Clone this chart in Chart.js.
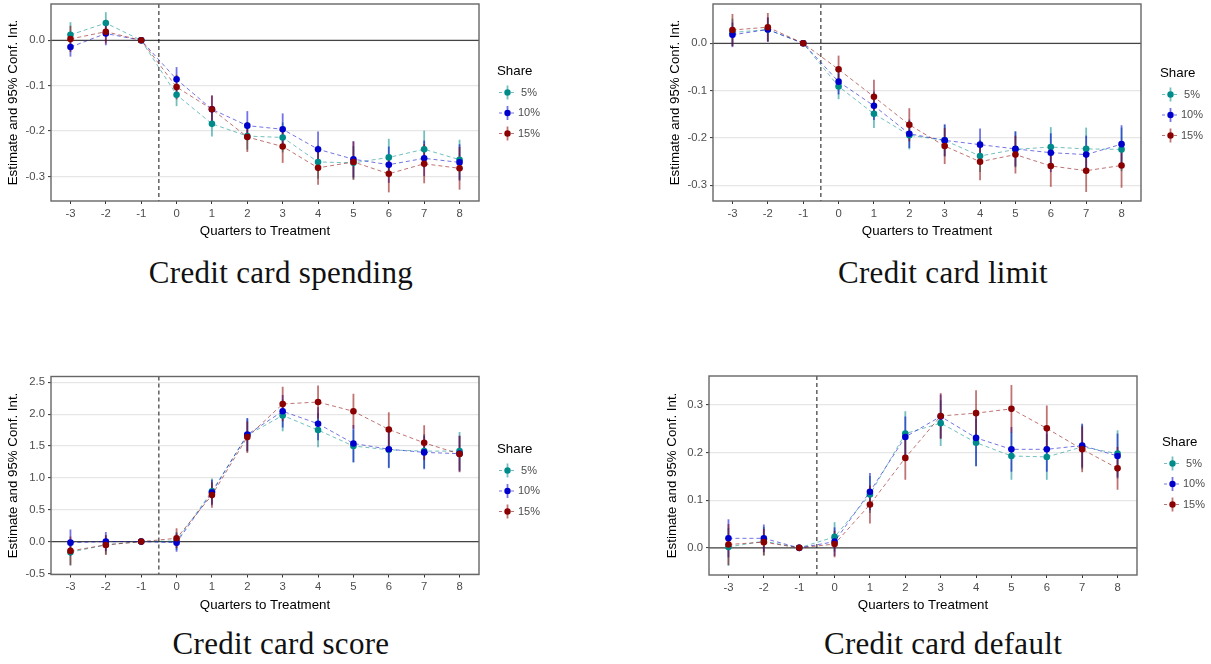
<!DOCTYPE html>
<html><head><meta charset="utf-8">
<script src="https://cdn.jsdelivr.net/npm/chart.js@4/dist/chart.umd.min.js"></script>
<style>
html,body{margin:0;padding:0;background:#fff;width:1211px;height:664px;overflow:hidden;position:relative}
canvas{position:absolute}
.cap{position:absolute;font-family:"Liberation Serif","Times New Roman",serif;font-size:31px;letter-spacing:0.3px;color:#111;white-space:nowrap;transform:translate(-50%,-50%);line-height:1}
</style></head><body>
<canvas id="c1" width="600" height="250" style="left:0;top:0"></canvas>
<canvas id="c2" width="591" height="250" style="left:620px;top:0"></canvas>
<canvas id="c3" width="600" height="255" style="left:0;top:370px"></canvas>
<canvas id="c4" width="591" height="255" style="left:620px;top:370px"></canvas>
<div class="cap" style="left:281px;top:272px">Credit card spending</div>
<div class="cap" style="left:943px;top:272px">Credit card limit</div>
<div class="cap" style="left:281px;top:643px">Credit card score</div>
<div class="cap" style="left:943px;top:643px">Credit card default</div>
<script>
// ---------- data ----------
const quarters = [-3, -2, -1, 0, 1, 2, 3, 4, 5, 6, 7, 8];
const shareLabels = [' 5%', '10%', '15%'];
const legendTitle = 'Share';
const xAxisTitle = 'Quarters to Treatment';
const yAxisTitle = 'Estimate and 95% Conf. Int.';
const treatmentLine = -0.5;

// Credit card spending
const spendEst5  = [0.012, 0.038, 0, -0.120, -0.184, -0.211, -0.214, -0.268, -0.270, -0.258, -0.240, -0.263];
const spendLo5   = [-0.016, 0.014, 0, -0.145, -0.212, -0.241, -0.247, -0.305, -0.307, -0.299, -0.281, -0.307];
const spendHi5   = [0.040, 0.062, 0, -0.095, -0.156, -0.181, -0.181, -0.231, -0.233, -0.217, -0.199, -0.219];
const spendEst10 = [-0.015, 0.015, 0, -0.086, -0.152, -0.188, -0.196, -0.240, -0.262, -0.274, -0.260, -0.269];
const spendLo10  = [-0.036, -0.011, 0, -0.113, -0.182, -0.220, -0.231, -0.279, -0.302, -0.314, -0.299, -0.309];
const spendHi10  = [0.006, 0.041, 0, -0.059, -0.122, -0.156, -0.161, -0.201, -0.222, -0.234, -0.221, -0.229];
const spendEst15 = [0.003, 0.019, 0, -0.103, -0.152, -0.213, -0.234, -0.281, -0.268, -0.294, -0.272, -0.282];
const spendLo15  = [-0.026, -0.007, 0, -0.130, -0.183, -0.246, -0.270, -0.318, -0.307, -0.335, -0.315, -0.329];
const spendHi15  = [0.032, 0.045, 0, -0.076, -0.121, -0.180, -0.198, -0.244, -0.223, -0.253, -0.229, -0.235];
const spendTicks = [-0.3, -0.2, -0.1, 0.0];

// Credit card limit
const limitEst5  = [0.023, 0.029, 0, -0.091, -0.149, -0.194, -0.205, -0.238, -0.224, -0.219, -0.223, -0.224];
const limitLo5   = [-0.006, 0.004, 0, -0.118, -0.179, -0.224, -0.238, -0.272, -0.262, -0.261, -0.268, -0.270];
const limitHi5   = [0.052, 0.054, 0, -0.064, -0.119, -0.164, -0.172, -0.204, -0.186, -0.177, -0.178, -0.178];
const limitEst10 = [0.018, 0.029, 0, -0.081, -0.132, -0.191, -0.205, -0.214, -0.223, -0.231, -0.235, -0.213];
const limitLo10  = [-0.008, 0.003, 0, -0.108, -0.162, -0.221, -0.239, -0.248, -0.260, -0.272, -0.275, -0.253];
const limitHi10  = [0.044, 0.055, 0, -0.054, -0.102, -0.161, -0.171, -0.180, -0.186, -0.190, -0.195, -0.173];
const limitEst15 = [0.028, 0.034, 0, -0.055, -0.113, -0.172, -0.217, -0.250, -0.235, -0.259, -0.269, -0.258];
const limitLo15  = [-0.006, 0.004, 0, -0.084, -0.149, -0.207, -0.255, -0.289, -0.275, -0.303, -0.314, -0.305];
const limitHi15  = [0.062, 0.064, 0, -0.026, -0.077, -0.137, -0.179, -0.211, -0.195, -0.215, -0.224, -0.211];
const limitTicks = [-0.3, -0.2, -0.1, 0.0];

// Credit card score
const scoreEst5  = [-0.167, -0.05, 0, 0.01, 0.79, 1.67, 1.98, 1.75, 1.50, 1.44, 1.42, 1.42];
const scoreLo5   = [-0.375, -0.20, 0, -0.13, 0.59, 1.41, 1.73, 1.48, 1.24, 1.15, 1.15, 1.12];
const scoreHi5   = [0.04, 0.10, 0, 0.15, 0.99, 1.93, 2.23, 2.02, 1.76, 1.73, 1.69, 1.72];
const scoreEst10 = [-0.016, 0.0, 0, -0.016, 0.77, 1.68, 2.045, 1.85, 1.54, 1.45, 1.40, 1.38];
const scoreLo10  = [-0.22, -0.15, 0, -0.16, 0.57, 1.42, 1.79, 1.59, 1.245, 1.16, 1.135, 1.10];
const scoreHi10  = [0.19, 0.15, 0, 0.13, 0.97, 1.94, 2.30, 2.11, 1.83, 1.74, 1.66, 1.66];
const scoreEst15 = [-0.146, -0.052, 0, 0.052, 0.73, 1.64, 2.16, 2.19, 2.045, 1.76, 1.55, 1.375];
const scoreLo15  = [-0.37, -0.21, 0, -0.10, 0.53, 1.39, 1.89, 1.93, 1.77, 1.49, 1.28, 1.09];
const scoreHi15  = [0.08, 0.10, 0, 0.21, 0.93, 1.89, 2.43, 2.45, 2.32, 2.03, 1.825, 1.66];
const scoreTicks = [-0.5, 0.0, 0.5, 1.0, 1.5, 2.0, 2.5];

// Credit card default
const defEst5  = [0.002, 0.014, 0, 0.023, 0.112, 0.240, 0.262, 0.221, 0.193, 0.191, 0.212, 0.198];
const defLo5   = [-0.038, -0.016, 0, -0.008, 0.073, 0.193, 0.214, 0.171, 0.143, 0.143, 0.165, 0.149];
const defHi5   = [0.042, 0.044, 0, 0.054, 0.151, 0.287, 0.310, 0.271, 0.243, 0.239, 0.259, 0.247];
const defEst10 = [0.020, 0.020, 0, 0.013, 0.118, 0.233, 0.276, 0.231, 0.207, 0.207, 0.215, 0.193];
const defLo10  = [-0.020, -0.009, 0, -0.017, 0.079, 0.190, 0.230, 0.172, 0.160, 0.160, 0.169, 0.146];
const defHi10  = [0.060, 0.049, 0, 0.043, 0.157, 0.276, 0.322, 0.290, 0.254, 0.254, 0.261, 0.240];
const defEst15 = [0.007, 0.012, 0, 0.008, 0.091, 0.189, 0.277, 0.283, 0.292, 0.251, 0.207, 0.167];
const defLo15  = [-0.036, -0.016, 0, -0.020, 0.051, 0.143, 0.229, 0.234, 0.242, 0.202, 0.159, 0.122];
const defHi15  = [0.050, 0.040, 0, 0.036, 0.131, 0.235, 0.325, 0.331, 0.342, 0.299, 0.255, 0.212];
const defTicks = [0.0, 0.1, 0.2, 0.3];

// ---------- styles ----------
const seriesColors = ['#008B8B', '#0000CD', '#8B0000'];
const seriesFaint  = ['rgba(0,139,139,0.55)', 'rgba(0,0,205,0.55)', 'rgba(139,0,0,0.55)'];
const sansFont = '"Liberation Sans", Arial, sans-serif';

const panelDefs = [
  {id:'c1', est:[spendEst5, spendEst10, spendEst15], lo:[spendLo5, spendLo10, spendLo15], hi:[spendHi5, spendHi10, spendHi15],
   yMin:-0.354, yMax:0.080, yTicks:spendTicks, pad:{left:5, top:4, right:121, bottom:11}, yW:46, xH:38, legend:{x:497, y:71}},
  {id:'c2', est:[limitEst5, limitEst10, limitEst15], lo:[limitLo5, limitLo10, limitLo15], hi:[limitHi5, limitHi10, limitHi15],
   yMin:-0.333, yMax:0.083, yTicks:limitTicks, pad:{left:47, top:4, right:70, bottom:11}, yW:46, xH:38, legend:{x:540, y:73}},
  {id:'c3', est:[scoreEst5, scoreEst10, scoreEst15], lo:[scoreLo5, scoreLo10, scoreLo15], hi:[scoreHi5, scoreHi10, scoreHi15],
   yMin:-0.516, yMax:2.591, yTicks:scoreTicks, pad:{left:5, top:6.5, right:121, bottom:12}, yW:46, xH:38.5, legend:{x:497, y:79}},
  {id:'c4', est:[defEst5, defEst10, defEst15], lo:[defLo5, defLo10, defLo15], hi:[defHi5, defHi10, defHi15],
   yMin:-0.057, yMax:0.361, yTicks:defTicks, pad:{left:44, top:6, right:74, bottom:12}, yW:45, xH:38, legend:{x:542, y:72}}
];

const decorPlugin = {
  id: 'decor',
  beforeDatasetsDraw(chart) {
    const {ctx, chartArea: a, scales: {x, y}} = chart;
    ctx.save();
    ctx.beginPath(); ctx.rect(a.left, a.top, a.right - a.left, a.bottom - a.top); ctx.clip();
    const y0 = y.getPixelForValue(0);
    ctx.strokeStyle = '#444'; ctx.lineWidth = 1.2;
    ctx.beginPath(); ctx.moveTo(a.left, y0); ctx.lineTo(a.right, y0); ctx.stroke();
    const xv = x.getPixelForValue(treatmentLine);
    ctx.setLineDash([4, 3]); ctx.strokeStyle = '#111'; ctx.lineWidth = 1;
    ctx.beginPath(); ctx.moveTo(xv, a.top); ctx.lineTo(xv, a.bottom); ctx.stroke();
    ctx.setLineDash([]);
    chart.data.datasets.forEach(ds => {
      ctx.strokeStyle = ds.errColor; ctx.lineWidth = 1.8;
      ds.data.forEach((p, i) => {
        const px = x.getPixelForValue(p.x);
        ctx.beginPath();
        ctx.moveTo(px, y.getPixelForValue(ds.errLo[i]));
        ctx.lineTo(px, y.getPixelForValue(ds.errHi[i]));
        ctx.stroke();
      });
    });
    ctx.restore();
  },
  afterDraw(chart) {
    const {ctx, chartArea: a} = chart;
    ctx.save();
    ctx.strokeStyle = '#666'; ctx.lineWidth = 1.4;
    ctx.strokeRect(a.left, a.top, a.right - a.left, a.bottom - a.top);
    const L = chart.options.plugins.shareLegend;
    ctx.fillStyle = '#000'; ctx.textBaseline = 'middle'; ctx.textAlign = 'left';
    ctx.font = '13.3px ' + sansFont;
    ctx.fillText(legendTitle, L.x, L.y);
    shareLabels.forEach((lab, i) => {
      const cy = L.y + 21.5 + i * 20.5;
      const kx0 = L.x + 2, kx1 = L.x + 19, cx = (kx0 + kx1) / 2;
      ctx.strokeStyle = seriesFaint[i]; ctx.lineWidth = 1.8;
      ctx.beginPath(); ctx.moveTo(cx, cy - 7); ctx.lineTo(cx, cy + 7); ctx.stroke();
      ctx.lineWidth = 1; ctx.setLineDash([3, 3]);
      ctx.beginPath(); ctx.moveTo(kx0, cy); ctx.lineTo(kx1, cy); ctx.stroke();
      ctx.setLineDash([]);
      ctx.fillStyle = seriesColors[i];
      ctx.beginPath(); ctx.arc(cx, cy, 3.2, 0, Math.PI * 2); ctx.fill();
      ctx.fillStyle = '#4d4d4d'; ctx.font = '11px ' + sansFont;
      ctx.fillText(lab, L.x + 21, cy);
    });
    ctx.restore();
  }
};

panelDefs.forEach(P => {
  const datasets = P.est.map((arr, s) => ({
    label: shareLabels[s],
    data: quarters.map((q, i) => ({x: q, y: arr[i]})),
    errLo: P.lo[s], errHi: P.hi[s], errColor: seriesFaint[s],
    borderColor: seriesFaint[s], backgroundColor: seriesColors[s],
    pointBackgroundColor: seriesColors[s], pointBorderColor: seriesColors[s],
    pointRadius: 3.3, pointBorderWidth: 0, borderWidth: 1, borderDash: [4, 3],
    tension: 0, order: 3 - s
  }));
  new Chart(document.getElementById(P.id), {
    type: 'line',
    data: {datasets},
    plugins: [decorPlugin],
    options: {
      responsive: false, animation: false, devicePixelRatio: 1,
      layout: {padding: P.pad},
      plugins: {legend: {display: false}, tooltip: {enabled: false}, shareLegend: P.legend},
      scales: {
        x: {
          type: 'linear', min: -3.55, max: 8.55,
          afterBuildTicks: s => { s.ticks = quarters.map(v => ({value: v})); },
          afterFit: s => { s.height = P.xH; s.paddingLeft = 0; s.paddingRight = 0; s.paddingTop = 0; s.paddingBottom = 0; },
          grid: {drawOnChartArea: false, drawTicks: true, tickLength: 3, tickColor: '#333', tickWidth: 1},
          border: {display: false},
          ticks: {color: '#4d4d4d', font: {family: sansFont, size: 11.3}, padding: 3, maxRotation: 0, autoSkip: false,
                  callback: v => String(v)},
          title: {display: true, text: xAxisTitle, color: '#000', font: {family: sansFont, size: 13.3}, padding: 0}
        },
        y: {
          type: 'linear', min: P.yMin, max: P.yMax,
          afterBuildTicks: s => { s.ticks = P.yTicks.map(v => ({value: v})); },
          afterFit: s => { s.width = P.yW; s.paddingTop = 0; s.paddingBottom = 0; s.paddingLeft = 0; s.paddingRight = 0; },
          grid: {color: '#e6e6e6', lineWidth: 1.2, drawTicks: true, tickLength: 3, tickColor: '#333', tickWidth: 1},
          border: {display: false},
          ticks: {color: '#4d4d4d', font: {family: sansFont, size: 11.3}, padding: 3, autoSkip: false,
                  callback: v => Number(v).toFixed(1)},
          title: {display: true, text: yAxisTitle, color: '#000', font: {family: sansFont, size: 13.3}, padding: 0}
        }
      }
    }
  });
});
</script>
</body></html>
